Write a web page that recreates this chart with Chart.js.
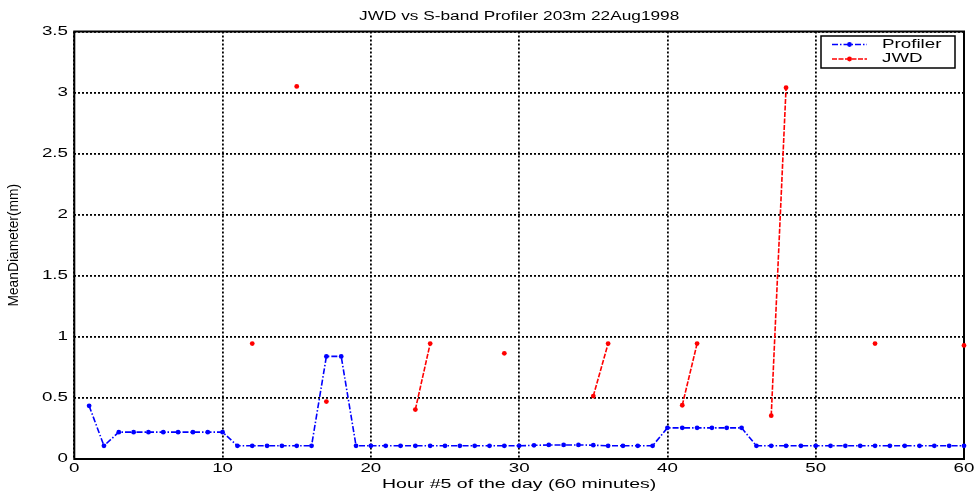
<!DOCTYPE html>
<html>
<head>
<meta charset="utf-8">
<script src="https://cdn.jsdelivr.net/npm/chart.js@4/dist/chart.umd.min.js"></script>
<style>
  html, body { margin: 0; padding: 0; background: #ffffff; }
  #wrap { width: 978px; height: 496px; position: relative; }
</style>
</head>
<body>
<div id="wrap"><canvas id="c" width="978" height="496"></canvas></div>
<script>
// Hour index within hour #5 (one sample per minute)
const hours = [1,2,3,4,5,6,7,8,9,10,11,12,13,14,15,16,17,18,19,20,
               21,22,23,24,25,26,27,28,29,30,31,32,33,34,35,36,37,38,39,40,
               41,42,43,44,45,46,47,48,49,50,51,52,53,54,55,56,57,58,59,60];

// S-band profiler mean diameter (mm)
const profilerValues = [0.435,0.108,0.22,0.22,0.22,0.22,0.22,0.22,0.22,0.22,
                        0.108,0.108,0.108,0.108,0.108,0.108,0.84,0.84,0.108,0.108,
                        0.108,0.108,0.108,0.108,0.108,0.108,0.108,0.108,0.108,0.108,
                        0.112,0.115,0.115,0.115,0.113,0.108,0.108,0.108,0.108,0.255,
                        0.255,0.255,0.255,0.255,0.255,0.108,0.108,0.108,0.108,0.108,
                        0.108,0.108,0.108,0.108,0.108,0.108,0.108,0.108,0.108,0.108];

// Joss-Waldvogel disdrometer mean diameter (mm), only minutes with rain
const jwdHours  = [12, 15, 17, 23, 24, 29, 35, 36, 41, 42, 47, 48, 54, 60];
const jwdValues = [0.945, 3.05, 0.47, 0.405, 0.945, 0.865, 0.515, 0.945, 0.44, 0.945, 0.355, 3.04, 0.945, 0.93];

const xTicks = [0, 10, 20, 30, 40, 50, 60];
const xTickLabels = ['0', '10', '20', '30', '40', '50', '60'];
const yTicks = [0, 0.5, 1, 1.5, 2, 2.5, 3, 3.5];
const yTickLabels = ['0', '0.5', '1', '1.5', '2', '2.5', '3', '3.5'];

const titleText = 'JWD vs S-band Profiler 203m 22Aug1998';
const xTitleText = 'Hour #5 of the day (60 minutes)';
const yTitleText = 'MeanDiameter(mm)';
const seriesNames = ['Profiler', 'JWD'];

const FONT = '"Liberation Sans", Arial, Helvetica, sans-serif';

// JWD on the same minute grid; missing minutes break the line
const jwdSeries = hours.map(h => {
  const i = jwdHours.indexOf(h);
  return { x: h, y: i >= 0 ? jwdValues[i] : null };
});
const profilerSeries = hours.map((h, i) => ({ x: h, y: profilerValues[i] }));

// Text drawn wider than tall, as in the exported figure
function wideText(ctx, text, x, y, size, sx, align, baseline) {
  ctx.save();
  ctx.font = size + 'px ' + FONT;
  ctx.textBaseline = baseline || 'alphabetic';
  ctx.textAlign = 'left';
  const w = ctx.measureText(text).width * sx;
  const left = align === 'center' ? x - w / 2 : (align === 'right' ? x - w : x);
  ctx.translate(left, y);
  ctx.scale(sx, 1);
  ctx.fillStyle = '#000000';
  ctx.fillText(text, 0, 0);
  ctx.restore();
}

const framePlugin = {
  id: 'frameAndText',
  beforeDatasetsDraw(chart) {
    const { ctx, chartArea: a } = chart;
    ctx.save();
    ctx.strokeStyle = '#000000';
    ctx.lineWidth = 2;
    ctx.setLineDash([]);
    ctx.strokeRect(a.left, a.top, a.right - a.left, a.bottom - a.top);
    ctx.restore();
  },
  afterDraw(chart) {
    const { ctx, chartArea: a, scales } = chart;
    const xs = scales.x, ys = scales.y;

    // tick labels
    xTicks.forEach((v, i) => {
      wideText(ctx, xTickLabels[i], xs.getPixelForValue(v), 469, 12.5, 1.5, 'center', 'middle');
    });
    yTicks.forEach((v, i) => {
      wideText(ctx, yTickLabels[i], 68, ys.getPixelForValue(v), 12.5, 1.5, 'right', 'middle');
    });

    // titles
    const cx = (a.left + a.right) / 2;
    wideText(ctx, titleText, cx, 20, 12.5, 1.38, 'center');
    wideText(ctx, xTitleText, cx, 488, 13, 1.5, 'center');

    ctx.save();
    ctx.translate(14, (a.top + a.bottom) / 2);
    ctx.rotate(-Math.PI / 2);
    ctx.font = '12px ' + FONT;
    ctx.textAlign = 'center';
    ctx.textBaseline = 'middle';
    ctx.fillStyle = '#000000';
    ctx.scale(1.15, 1.2);
    ctx.fillText(yTitleText, 0, 0);
    ctx.restore();

    // legend box
    const lx = 821, ly = 36, lw = 134, lh = 32;
    ctx.save();
    ctx.fillStyle = '#ffffff';
    ctx.fillRect(lx, ly, lw, lh);
    ctx.strokeStyle = '#000000';
    ctx.lineWidth = 1.5;
    ctx.setLineDash([]);
    ctx.strokeRect(lx, ly, lw, lh);
    ctx.restore();

    chart.data.datasets.forEach((ds, i) => {
      const y = 44.5 + i * 14.5;
      ctx.save();
      ctx.strokeStyle = ds.borderColor;
      ctx.lineWidth = ds.borderWidth;
      ctx.setLineDash(ds.borderDash);
      ctx.beginPath();
      ctx.moveTo(832, y);
      ctx.lineTo(867, y);
      ctx.stroke();
      ctx.setLineDash([]);
      ctx.fillStyle = ds.pointBackgroundColor;
      ctx.beginPath();
      ctx.arc(849.5, y, ds.pointRadius, 0, Math.PI * 2);
      ctx.fill();
      ctx.restore();
      wideText(ctx, seriesNames[i], 882, y, 12.5, 1.5, 'left', 'middle');
    });
  }
};

const gridStyle = {
  color: '#000000',
  lineWidth: 1.8,
  drawTicks: false
};

new Chart(document.getElementById('c'), {
  type: 'line',
  data: {
    datasets: [
      {
        label: seriesNames[0],
        data: profilerSeries,
        borderColor: '#0000ff',
        backgroundColor: '#0000ff',
        pointBackgroundColor: '#0000ff',
        pointBorderWidth: 0,
        pointRadius: 2.4,
        borderWidth: 1.6,
        borderDash: [6, 2, 1.5, 2],
        tension: 0,
        clip: false
      },
      {
        label: seriesNames[1],
        data: jwdSeries,
        borderColor: '#ff0000',
        backgroundColor: '#ff0000',
        pointBackgroundColor: '#ff0000',
        pointBorderWidth: 0,
        pointRadius: 2.4,
        borderWidth: 1.6,
        borderDash: [5, 1.5],
        tension: 0,
        spanGaps: false,
        clip: false
      }
    ]
  },
  options: {
    responsive: false,
    animation: false,
    devicePixelRatio: 1,
    layout: { padding: { top: 31.5, right: 14, left: 0, bottom: 0 } },
    plugins: {
      legend: { display: false },
      title: { display: false },
      tooltip: { enabled: false }
    },
    scales: {
      x: {
        type: 'linear',
        min: 0,
        max: 60,
        afterBuildTicks: s => { s.ticks = xTicks.map(v => ({ value: v })); },
        afterFit: s => { s.height = 37; },
        ticks: { display: false },
        grid: { ...gridStyle },
        border: { display: false, dash: [2, 2] }
      },
      y: {
        type: 'linear',
        min: 0,
        max: 3.5,
        afterBuildTicks: s => { s.ticks = yTicks.map(v => ({ value: v })); },
        afterFit: s => { s.width = 74.3; },
        ticks: { display: false },
        grid: { ...gridStyle },
        border: { display: false, dash: [2, 2] }
      }
    }
  },
  plugins: [framePlugin]
});
</script>
</body>
</html>
